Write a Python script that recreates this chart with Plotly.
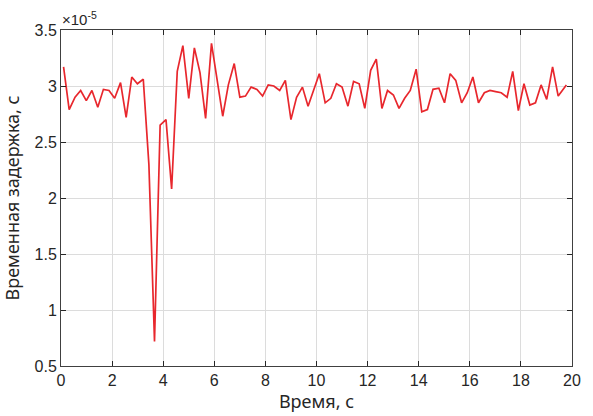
import plotly.graph_objects as go

# Sampling instants, s
time_s = [
    0.10, 0.32, 0.55, 0.77, 0.99, 1.21, 1.44, 1.66, 1.88, 2.10,
    2.33, 2.55, 2.77, 2.99, 3.22, 3.44, 3.66, 3.88, 4.11, 4.33,
    4.55, 4.77, 5.00, 5.22, 5.44, 5.66, 5.89, 6.11, 6.33, 6.55,
    6.78, 7.00, 7.22, 7.44, 7.67, 7.89, 8.11, 8.33, 8.56, 8.78,
    9.00, 9.22, 9.45, 9.67, 9.89, 10.11, 10.34, 10.56, 10.78, 11.00,
    11.23, 11.45, 11.67, 11.89, 12.12, 12.34, 12.56, 12.78, 13.01, 13.23,
    13.45, 13.67, 13.90, 14.12, 14.34, 14.56, 14.79, 15.01, 15.23, 15.45,
    15.68, 15.90, 16.12, 16.34, 16.57, 16.79, 17.01, 17.23, 17.46, 17.68,
    17.90, 18.12, 18.35, 18.57, 18.79, 19.01, 19.24, 19.46, 19.78,
]

# Measured time delay, in units of 1e-5 s
delay_e5 = [
    3.17, 2.79, 2.90, 2.96, 2.87, 2.96, 2.81, 2.97, 2.96, 2.89,
    3.03, 2.72, 3.08, 3.02, 3.06, 2.30, 0.72, 2.65, 2.70, 2.08,
    3.13, 3.36, 2.89, 3.34, 3.12, 2.71, 3.38, 3.06, 2.73, 3.01,
    3.20, 2.90, 2.91, 2.99, 2.97, 2.91, 3.01, 3.00, 2.96, 3.05,
    2.70, 2.90, 2.99, 2.82, 2.96, 3.11, 2.85, 2.89, 3.02, 2.99,
    2.82, 3.04, 3.02, 2.80, 3.14, 3.24, 2.80, 2.96, 2.92, 2.80,
    2.89, 2.96, 3.15, 2.77, 2.79, 2.97, 2.98, 2.85, 3.11, 3.05,
    2.85, 2.94, 3.08, 2.85, 2.94, 2.96, 2.95, 2.94, 2.90, 3.13,
    2.78, 3.02, 2.83, 2.85, 3.01, 2.88, 3.17, 2.91, 3.01,
]

x_ticks = [0, 2, 4, 6, 8, 10, 12, 14, 16, 18, 20]
y_ticks = [0.5, 1, 1.5, 2, 2.5, 3, 3.5]
y_tick_text = ["0.5", "1", "1.5", "2", "2.5", "3", "3.5"]

fig = go.Figure()
fig.add_trace(go.Scatter(
    x=time_s, y=delay_e5, mode="lines",
    line=dict(color="#e8272d", width=1.7),
    showlegend=False, hoverinfo="skip",
))

tick_font = dict(family="Liberation Sans, Arial, sans-serif", size=16, color="#262626")
title_font = dict(family="Noto Sans, Open Sans, sans-serif", size=18, color="#262626")

axis_common = dict(
    showline=True, linecolor="#404040", linewidth=1, mirror="allticks",
    ticks="inside", ticklen=5, tickcolor="#262626", tickwidth=1,
    showgrid=True, gridcolor="#dcdcdc", gridwidth=1,
    zeroline=False, tickfont=tick_font,
)

fig.update_xaxes(
    range=[0, 20], tickvals=x_ticks,
    title=dict(text="Время, с", font=title_font, standoff=2),
    **axis_common,
)
fig.update_yaxes(
    range=[0.5, 3.5], tickvals=y_ticks, ticktext=y_tick_text,
    title=dict(text="Временная задержка, с", font=title_font, standoff=10),
    **axis_common,
)

# Common exponent for the delay axis
fig.add_annotation(
    x=0, y=1, xref="paper", yref="paper", xanchor="left", yanchor="bottom",
    text="×10<sup>-5</sup>", showarrow=False, xshift=-1, yshift=0,
    font=dict(family="Liberation Sans, Arial, sans-serif", size=15, color="#262626"),
)

fig.update_layout(
    width=593, height=416,
    margin=dict(l=59, r=15, t=30, b=45),
    paper_bgcolor="white", plot_bgcolor="white",
)

fig.write_html("out.html")
